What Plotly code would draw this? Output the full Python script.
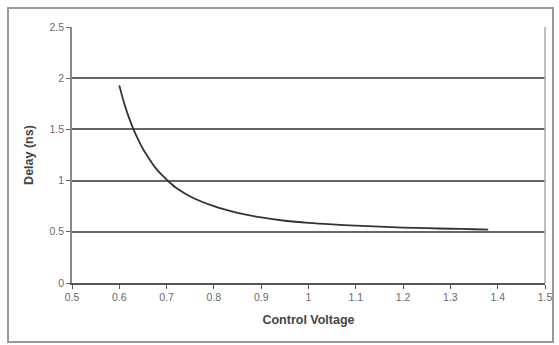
import plotly.graph_objects as go

voltage = [0.60, 0.61, 0.62, 0.63, 0.64, 0.65, 0.66, 0.67, 0.68, 0.69, 0.70, 0.72, 0.75,
           0.80, 0.85, 0.90, 0.95, 1.00, 1.05, 1.10, 1.15, 1.20, 1.25, 1.30, 1.35, 1.38]
delay = [1.93, 1.76, 1.62, 1.50, 1.40, 1.31, 1.235, 1.165, 1.105, 1.055, 1.01, 0.93, 0.845,
         0.75, 0.685, 0.64, 0.608, 0.587, 0.572, 0.56, 0.55, 0.541, 0.535, 0.53, 0.525, 0.522]

x_ticks = [0.5, 0.6, 0.7, 0.8, 0.9, 1.0, 1.1, 1.2, 1.3, 1.4, 1.5]
x_labels = ["0.5", "0.6", "0.7", "0.8", "0.9", "1", "1.1", "1.2", "1.3", "1.4", "1.5"]
y_ticks = [0, 0.5, 1.0, 1.5, 2.0, 2.5]
y_labels = ["0", "0.5", "1", "1.5", "2", "2.5"]

fig = go.Figure()
fig.add_trace(go.Scatter(x=voltage, y=delay, mode="lines",
                         line=dict(color="#333333", width=1.8, shape="spline", smoothing=0.8),
                         showlegend=False, hoverinfo="skip"))

L, R, T, B = 72, 14, 27, 62
W, H = 559, 345
pw, ph = W - L - R, H - T - B

def px(xp):
    return (xp - L) / pw

def py(yp):
    return (H - B - yp) / ph

fig.update_layout(
    width=W, height=H,
    margin=dict(l=L, r=R, t=T, b=B, pad=0, autoexpand=False),
    paper_bgcolor="white", plot_bgcolor="white",
    font=dict(family="Liberation Sans, Arial, sans-serif", color="#555555", size=10),
    xaxis=dict(range=[0.5, 1.5], tickvals=x_ticks, ticktext=x_labels, automargin=False,
               showgrid=False, zeroline=False,
               showline=True, linecolor="#555555", linewidth=1.5,
               ticks="outside", ticklen=4, tickcolor="#555555", tickwidth=1,
               tickfont=dict(size=10.5, color="#6a6a6a"),
               title=dict(text="<b>Control Voltage</b>", font=dict(size=12.5, color="#444444"), standoff=13)),
    yaxis=dict(range=[0, 2.5], tickvals=y_ticks, ticktext=y_labels, automargin=False,
               showgrid=True, gridcolor="#666666", gridwidth=1.5, zeroline=False,
               showline=True, linecolor="#888888", linewidth=1.5,
               ticks="outside", ticklen=4, tickcolor="#666666", tickwidth=1,
               tickfont=dict(size=10.5, color="#6a6a6a"),
               title=dict(text="<b>Delay (ns)</b>", font=dict(size=12.5, color="#444444"), standoff=13)),
    shapes=[
        # plot area right border
        dict(type="line", xref="paper", yref="paper", x0=1, x1=1, y0=0, y1=1,
             line=dict(color="#aaaaaa", width=1.5)),
        # outer chart frame
        dict(type="rect", xref="paper", yref="paper",
             x0=px(8), x1=px(553), y0=py(342), y1=py(8),
             line=dict(color="#999999", width=2), layer="below"),
    ],
)

fig.write_html("out.html", config={"displayModeBar": False},
               post_script="document.body.style.margin='0';")
